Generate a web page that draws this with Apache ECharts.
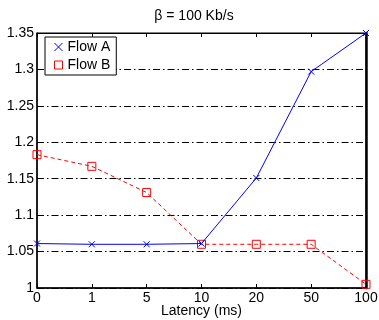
<!DOCTYPE html>
<html><head><meta charset="utf-8">
<script src="https://cdn.jsdelivr.net/npm/echarts@6/dist/echarts.min.js"></script>
<style>html,body{margin:0;padding:0;background:#fff}#c{width:379px;height:320px}</style>
</head><body><div id="c"></div>
<script>
const categories = ['0', '1', '5', '10', '20', '50', '100'];
const flowA = [1.061, 1.060, 1.060, 1.061, 1.151, 1.297, 1.350];
const flowB = [1.183, 1.167, 1.131, 1.060, 1.060, 1.060, 1.005];
const yMin = 1, yMax = 1.35, yStep = 0.05;

const FONT = 'Liberation Sans';
const crossPath = 'path://M0,0L10,10M10,0L0,10';
const chart = echarts.init(document.getElementById('c'), null, {renderer: 'canvas'});
chart.setOption({
  animation: false,
  backgroundColor: '#fff',
  title: {
    text: 'β = 100 Kb/s', left: 189, top: 4, textAlign: 'center',
    textStyle: {fontFamily: FONT, fontSize: 14, fontWeight: 'normal', color: '#000'}
  },
  legend: {
    orient: 'vertical', left: 45, top: 37,
    backgroundColor: '#fff', borderColor: '#000', borderWidth: 1,
    padding: [3, 6, 3, 9], itemGap: 4, itemWidth: 8, itemHeight: 8,
    textStyle: {fontFamily: FONT, fontSize: 14, color: '#000'},
    data: [
      {name: 'Flow A', icon: crossPath, itemStyle: {color: '#ffffff', borderColor: '#0000ff', borderWidth: 1}},
      {name: 'Flow B', icon: 'rect', itemStyle: {color: '#ffffff', borderColor: '#ff0000', borderWidth: 1}}
    ]
  },
  grid: {left: 37, right: 13, top: 33, bottom: 32, show: true, borderColor: '#000', borderWidth: 1,
         containLabel: false, outerBoundsMode: 'none'},
  xAxis: [{
    type: 'category', data: categories, boundaryGap: false,
    name: 'Latency (ms)', nameLocation: 'middle', nameGap: 16, nameMoveOverlap: false,
    nameTextStyle: {fontFamily: FONT, fontSize: 14, color: '#000', verticalAlign: 'top'},
    axisLine: {lineStyle: {color: '#000', width: 1.5}},
    axisTick: {inside: true, length: 4, lineStyle: {color: '#000'}},
    axisLabel: {fontFamily: FONT, fontSize: 14, color: '#000', margin: 3},
    splitLine: {show: false}
  }, {
    type: 'category', data: categories, boundaryGap: false, position: 'top',
    axisLine: {lineStyle: {color: '#000'}},
    axisTick: {inside: true, length: 4, lineStyle: {color: '#000'}},
    axisLabel: {show: false}, splitLine: {show: false}
  }],
  yAxis: [{
    type: 'value', min: yMin, max: yMax, interval: yStep,
    axisLine: {show: true, lineStyle: {color: '#000', width: 1.5}},
    axisTick: {show: false},
    axisLabel: {fontFamily: FONT, fontSize: 14, color: '#000', margin: 3},
    splitLine: {show: true, lineStyle: {color: '#000', width: 1, type: [7, 3, 1.5, 3]}}
  }, {
    type: 'value', min: yMin, max: yMax, interval: yStep, position: 'right',
    axisLine: {show: true, lineStyle: {color: '#000', width: 2.5}},
    axisTick: {show: false}, axisLabel: {show: false}, splitLine: {show: false}
  }],
  series: [{
    name: 'Flow A', type: 'line', data: flowA,
    symbol: crossPath, symbolSize: 6, showAllSymbol: true,
    lineStyle: {color: '#0000ff', width: 1},
    itemStyle: {color: 'rgba(255,255,255,0)', borderColor: '#0000ff', borderWidth: 1},
    z: 3
  }, {
    name: 'Flow B', type: 'line', data: flowB,
    symbol: 'rect', symbolSize: 8, showAllSymbol: true,
    lineStyle: {color: '#ff0000', width: 1, type: [4, 3]},
    itemStyle: {color: 'rgba(255,255,255,0)', borderColor: '#ff0000', borderWidth: 1},
    z: 2
  }]
});
</script></body></html>
